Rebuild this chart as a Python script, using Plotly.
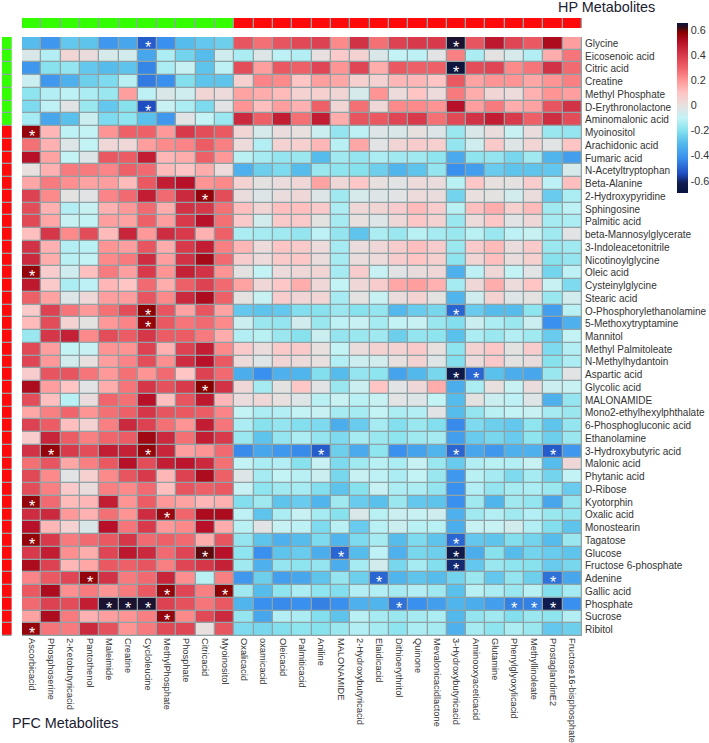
import plotly.graph_objects as go

col_labels = ["Ascorbicacid","Phosphoserine","2-Ketobutyricacid","Pantothenol","Maleimide","Creatine","Cycloleucine","MethylPhosphate","Phosphate","Citricacid","Myoinositol","Oxalicacid","oxamicacid","Oleicacid","Palmiticacid","Aniline","MALONAMIDE","2-Hydroxybutyricacid","Elaidicacid","Dithioerythritol","Quinone","Mevalonicacidlactone","3-Hydroxybutyricacid","Aminooxyaceticacid","Glutamine","Phenylglyoxylicacid","Methyllinoleate","ProstaglandinE2","Fructose16-bisphosphate"]
row_labels = ["Glycine","Eicosenoic acid","Citric acid","Creatine","Methyl Phosphate","D-Erythronolactone","Aminomalonic acid","Myoinositol","Arachidonic acid","Fumaric acid","N-Acetyltryptophan","Beta-Alanine","2-Hydroxypyridine","Sphingosine","Palmitic acid","beta-Mannosylglycerate","3-Indoleacetonitrile","Nicotinoylglycine","Oleic acid","Cysteinylglycine","Stearic acid","O-Phosphorylethanolamine","5-Methoxytryptamine","Mannitol","Methyl Palmitoleate","N-Methylhydantoin","Aspartic acid","Glycolic acid","MALONAMIDE","Mono2-ethylhexylphthalate","6-Phosphogluconic acid","Ethanolamine","3-Hydroxybutyric acid","Malonic acid","Phytanic acid","D-Ribose","Kyotorphin","Oxalic acid","Monostearin","Tagatose","Glucose","Fructose 6-phosphate","Adenine","Gallic acid","Phosphate","Sucrose","Ribitol"]

values = [
[-30,-40,-27,-28,-40,-36,-52,-42,-30,-27,-25,33,27,33,36,38,22,42,27,38,40,40,64,33,48,37,32,52,18],
[-4,-13,4,1,-5,-6,-36,-14,-24,-30,-7,-14,-3,-11,-13,0,8,5,-4,-10,-11,-2,24,-14,-1,-5,-13,15,26],
[-40,-20,-18,-27,-30,-28,-44,-14,-9,-28,-11,35,18,32,30,37,20,37,15,32,30,30,65,35,37,22,26,42,28],
[-8,-40,-33,-25,-22,-12,-46,-42,-21,-28,-28,6,23,22,10,18,16,6,5,13,13,10,32,17,20,20,16,20,24],
[-19,-13,-11,-14,-17,18,-11,-4,-7,4,2,17,15,12,5,6,4,-5,20,2,10,2,25,15,4,2,14,20,18],
[-22,-11,-2,-17,-27,-20,-55,-9,-14,-22,-2,20,11,18,14,30,4,27,3,22,22,20,50,18,25,15,17,33,42],
[-15,-36,-29,-8,-22,-19,-29,-40,-2,-10,-17,44,30,47,27,47,15,33,32,37,40,27,36,42,47,40,30,43,35],
[56,13,-11,-10,20,30,30,19,40,35,32,4,-5,1,0,-8,-18,-11,-3,-4,0,-3,-17,-4,1,-9,1,-17,-18],
[27,14,-3,-10,3,3,18,22,23,31,24,2,-13,5,6,13,-12,16,-2,4,7,6,-18,-7,8,-3,4,-2,10],
[50,17,-10,-3,32,31,47,13,15,30,19,-12,-15,-18,-17,-30,-16,-18,-14,-16,-16,-19,-35,-19,-18,-23,-16,-32,-38],
[0,14,25,25,23,30,28,12,10,15,2,-33,-25,-22,-30,-17,-19,-20,-25,-32,-28,-18,-42,-38,-26,-28,-28,-27,-5],
[16,25,21,17,18,12,32,47,50,20,22,5,-1,1,3,17,3,9,0,-2,2,1,-12,9,0,-1,7,-11,11],
[38,22,-1,-2,23,28,47,28,44,56,35,1,-3,1,3,-3,-16,-5,-3,-2,2,1,-24,0,-1,-6,1,-26,-14],
[35,14,-13,-9,14,19,28,15,42,41,27,11,4,11,11,8,-14,3,4,7,12,7,-12,11,15,6,12,-16,-11],
[36,16,-9,-10,18,17,30,18,40,50,27,8,-6,8,8,-1,-15,0,-3,3,9,5,-17,2,9,-2,3,-15,-14],
[11,41,22,35,12,45,19,43,40,14,30,-14,-15,-16,-18,-11,-18,-28,-14,-17,-12,-15,-17,-12,-17,-11,-9,-16,-2],
[42,14,-13,-12,20,18,33,15,40,47,24,13,2,10,8,2,-15,1,3,7,11,7,-17,8,12,1,8,-17,-16],
[44,15,-12,-10,22,25,43,18,42,53,28,7,2,8,9,1,-15,1,2,7,10,6,-19,4,11,1,6,-20,-18],
[56,7,-7,11,25,18,40,20,46,42,20,-1,-10,2,3,4,-15,7,-9,-2,1,3,-33,-11,3,-10,-2,-24,-11],
[48,8,-14,-11,13,10,28,15,30,38,28,17,3,9,15,3,-10,3,7,16,18,14,-15,3,15,2,10,-9,-22],
[30,17,-3,3,18,18,33,22,44,52,30,-1,-9,7,4,4,-15,-1,-9,1,5,-1,-32,-7,5,-3,-1,-17,-6],
[8,38,26,19,27,35,57,33,17,33,17,-27,-28,-27,-21,-20,-17,-20,-18,-31,-26,-23,-50,-26,-30,-30,-19,-38,-12],
[12,35,5,-1,19,23,56,32,26,28,22,-8,-17,-18,-6,-17,-11,-9,-15,-10,-9,-17,-21,-8,-14,-17,-8,-42,-33],
[-17,41,46,22,35,31,41,31,31,25,15,-13,-12,-17,-20,-8,-18,-17,-16,-25,-18,-19,-29,-14,-17,-13,-16,-26,-10],
[36,18,-10,-9,20,20,38,14,38,47,22,8,1,8,8,0,-10,1,5,5,8,0,-19,5,9,-1,7,-22,-13],
[37,19,-6,0,18,23,35,21,43,50,32,2,-3,4,2,0,-13,-8,-6,0,5,-3,-21,2,8,-1,1,-20,-14],
[7,33,33,26,19,27,20,28,10,38,28,-34,-42,-33,-32,-21,-30,-18,-19,-37,-31,-23,-64,-50,-29,-34,-36,-17,-2],
[52,18,10,-2,15,26,41,34,40,58,42,3,-15,-1,9,-2,-17,-8,10,-2,3,15,-34,-14,0,-9,1,-8,-9],
[35,11,-12,1,29,27,50,11,33,48,13,1,3,0,-3,-12,-9,-12,-9,-2,-3,-10,-30,-1,-8,-11,-3,-33,-18],
[16,24,29,20,27,30,41,33,32,31,23,-10,-14,-13,-10,-9,-15,-15,-10,-14,-13,-2,-30,-18,-12,-10,-9,-15,-17],
[38,31,11,5,24,44,38,27,20,47,26,-14,-20,-18,-21,-22,-34,-26,-15,-21,-17,-21,-43,-22,-25,-27,-19,-28,-18],
[7,45,31,24,29,31,54,44,27,47,40,-17,-28,-18,-14,-18,-22,-15,-17,-19,-16,-15,-38,-26,-23,-26,-19,-25,-17],
[42,56,40,35,47,46,56,45,18,20,28,-43,-36,-40,-43,-52,-25,-35,-19,-42,-37,-32,-50,-36,-40,-33,-33,-52,-40],
[27,33,16,24,32,50,35,47,49,44,27,-10,-14,-13,-20,-9,-22,-16,-12,-14,-9,-17,-26,-13,-12,-13,-9,-30,3],
[36,22,-2,6,22,33,40,13,38,52,30,-3,-15,-10,-12,-8,-23,-9,-11,-14,-10,-17,-40,-12,-15,-22,-15,-24,-10],
[35,24,8,1,24,22,28,11,33,30,32,-9,-19,-16,-15,-21,-28,-20,-9,-14,-14,-18,-42,-13,-18,-15,-14,-17,-26],
[56,28,12,13,47,20,31,19,17,13,14,-21,-16,-28,-26,-32,-16,-26,-29,-17,-27,-28,-42,-16,-32,-16,-18,-36,-18],
[43,44,19,14,27,20,43,55,29,52,52,-11,-28,-14,-9,-15,-20,-4,-12,-8,-9,-7,-33,-16,-13,-16,-13,-17,-18],
[50,13,5,-4,50,26,40,19,22,50,15,-12,-2,-9,-11,-22,-12,-26,-12,-8,-12,-12,-34,-9,-9,-6,-13,-21,-28],
[56,40,25,28,32,41,28,30,28,15,33,-18,-28,-33,-30,-22,-32,-22,-15,-30,-22,-28,-50,-27,-28,-21,-24,-30,-17],
[40,47,21,15,37,48,44,28,37,60,50,-19,-42,-28,-26,-34,-50,-30,-11,-33,-23,-25,-64,-34,-20,-30,-24,-26,-28],
[52,38,13,16,32,30,33,24,37,41,46,-16,-33,-18,-19,-18,-34,-15,-6,-23,-15,-21,-60,-27,-17,-19,-20,-26,-23],
[23,32,37,56,42,25,28,45,21,-12,24,-40,-25,-38,-36,-28,-18,-25,-50,-32,-28,-30,-24,-17,-27,-18,-25,-48,-36],
[32,52,21,25,20,25,32,56,37,24,57,-16,-30,-19,-14,-19,-21,-13,-13,-15,-13,-16,-29,-12,-14,-17,-12,-21,-15],
[28,38,35,47,64,64,64,38,34,26,32,-32,-42,-43,-42,-45,-42,-33,-32,-48,-42,-38,-32,-34,-38,-45,-45,-62,-42],
[17,52,25,14,18,20,24,56,22,36,44,-18,-36,-13,-14,-21,-28,-12,-15,-17,-15,-14,-31,-18,-16,-21,-17,-19,-13],
[56,26,25,44,34,20,25,36,37,0,33,-22,-23,-21,-19,-20,-17,-13,-15,-19,-14,-15,-33,-15,-19,-14,-17,-27,-25],
]

star_cells = [(0,6),(0,22),(2,22),(5,6),(7,0),(12,9),(18,0),(21,6),(21,22),(22,6),(26,22),(26,23),(27,9),(32,1),(32,6),(32,15),(32,22),(32,27),(36,0),(37,7),(39,0),(39,22),(40,9),(40,16),(40,22),(41,22),(42,3),(42,18),(42,27),(43,7),(43,10),(44,4),(44,5),(44,6),(44,19),(44,25),(44,26),(44,27),(45,7),(46,0)]

col_groups = [0]*11 + [1]*18
row_groups = [0]*7 + [1]*40

W, H = 709, 743
z = [[v/100 for v in r] for r in values]

zmin, zmax = -0.70, 0.654
def stop(v):
    return (v - zmin) / (zmax - zmin)
scale_points = [(-0.70,"#0a1440"),(-0.62,"#101c50"),(-0.55,"#1f4cc0"),(-0.42,"#3a90ee"),(-0.3,"#55bcec"),(-0.2,"#88e2ee"),(-0.1,"#c4f3f6"),(0,"#e8dfdf"),(0.1,"#ffc4c4"),(0.2,"#ff9494"),(0.3,"#ee6068"),(0.4,"#d83a4c"),(0.5,"#b81028"),(0.58,"#880000"),(0.62,"#301018"),(0.654,"#0a1440")]
colorscale = [[stop(v), c] for v, c in scale_points]

GRID = "#8fa3a6"
fig = go.Figure()
fig.add_trace(go.Heatmap(z=z, x=col_labels, y=row_labels, zmin=zmin, zmax=zmax, colorscale=colorscale,
    xgap=1.3, ygap=1.3, hoverongaps=False,
    colorbar=dict(x=676.5/W, xanchor="left", y=1-23.3/H, yanchor="top", len=170/H, lenmode="fraction",
        thickness=10.5, thicknessmode="pixels", outlinewidth=0, ticks="", tickvals=[-0.6,-0.4,-0.2,0,0.2,0.4,0.6],
        ticktext=["-0.6","-0.4","-0.2","0","0.2","0.4","0.6"], tickfont=dict(size=10.8, color="#333", family="Liberation Sans"), ticklabelposition="outside", xpad=0, ypad=0)))
group_scale = [[0,"#33ff00"],[0.5,"#33ff00"],[0.5,"#ff0a0a"],[1,"#ff0a0a"]]
fig.add_trace(go.Heatmap(z=[col_groups], x=col_labels, y=["top"], xaxis="x2", yaxis="y2", zmin=0, zmax=1,
    colorscale=group_scale, showscale=False, xgap=1.3, ygap=0))
fig.add_trace(go.Heatmap(z=[[g] for g in row_groups], x=["left"], y=row_labels, xaxis="x3", yaxis="y3", zmin=0, zmax=1,
    colorscale=group_scale, showscale=False, xgap=0, ygap=1.3))

star_annotations = [dict(text="*", x=col_labels[c], y=row_labels[r], xref="x", yref="y", showarrow=False, yshift=-4,
                         xanchor="center", yanchor="middle", font=dict(size=16, color="white")) for r, c in star_cells]

xdom = [22/W, 582/W]
ydom = [1-636/H, 1-37/H]
x_range = [-0.5, len(col_labels) - 0.5]
y_range = [len(row_labels) - 0.5, -0.5]
fig.update_layout(width=W, height=H, margin=dict(l=0,r=0,t=0,b=0), paper_bgcolor="white", plot_bgcolor=GRID,
    font=dict(family="Liberation Sans", color="#333"), showlegend=False,
    xaxis=dict(domain=xdom, anchor="y", automargin=False, range=x_range, tickangle=90, ticklabelstandoff=1, tickfont=dict(size=9.3, color="#333"), ticks="", showgrid=False, zeroline=False, tickmode="array", tickvals=col_labels, ticktext=col_labels, showline=False),
    yaxis=dict(domain=ydom, anchor="x", automargin=False, range=y_range, side="right", ticklabelstandoff=2, tickfont=dict(size=10, color="#333"), ticks="", showgrid=False, zeroline=False, tickmode="array", tickvals=row_labels, ticktext=row_labels, showline=False),
    xaxis2=dict(domain=xdom, anchor="y2", automargin=False, matches="x", visible=False),
    yaxis2=dict(domain=[1-28/H, 1-18/H], anchor="x2", automargin=False, visible=False),
    xaxis3=dict(domain=[2/W, 11.5/W], anchor="y3", automargin=False, visible=False),
    yaxis3=dict(domain=ydom, anchor="x3", automargin=False, matches="y", visible=False),
    annotations=star_annotations + [
        dict(text="HP Metabolites", x=556/W, y=1-7/H, xref="paper", yref="paper", xanchor="left", yanchor="middle", showarrow=False, font=dict(size=14.4, color="#1a2030")),
        dict(text="PFC Metabolites", x=10/W, y=1-723/H, xref="paper", yref="paper", xanchor="left", yanchor="middle", showarrow=False, font=dict(size=14.4, color="#1a2030")),
    ])
fig.write_html("out.html", config=dict(displayModeBar=False), post_script="document.body.style.margin='0';document.documentElement.style.overflow='hidden';")
